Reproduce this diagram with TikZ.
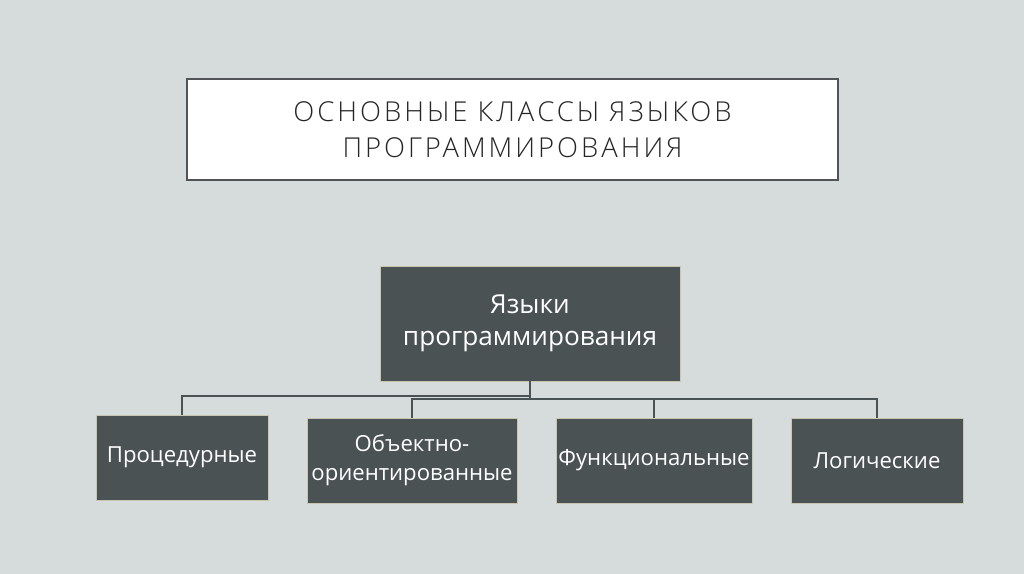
\documentclass[tikz,border=0pt]{standalone}
\usepackage{fontspec}
\setmainfont{Open Sans}
\newfontfamily\titlefont[LetterSpace=11]{Open Sans Light}
\usetikzlibrary{positioning}

\definecolor{slidebg}{RGB}{214,220,220}
\definecolor{boxfill}{RGB}{74,82,84}
\definecolor{boxedge}{RGB}{200,198,176}
\definecolor{titleedge}{RGB}{80,84,86}
\definecolor{titleink}{RGB}{38,38,38}

\begin{document}
\begin{tikzpicture}[
  x=0.02cm,y=-0.02cm,
  bg/.style={fill=slidebg},
  headbox/.style={draw=titleedge,fill=white,line width=1.2pt,
    minimum width=13.02cm,minimum height=2.02cm,align=center,
    text=titleink,font=\titlefont\fontsize{15.6}{20.5}\selectfont},
  rootbox/.style={draw=boxedge,fill=boxfill,line width=.5pt,
    minimum width=6cm,minimum height=2.3cm,align=center,text=white,
    font=\fontsize{14.9}{18.5}\selectfont},
  kindbox/.style={draw=boxedge,fill=boxfill,line width=.5pt,
    minimum height=1.7cm,inner xsep=0pt,align=center,text=white,
    font=\fontsize{12.6}{16.5}\selectfont},
  link/.style={draw=boxfill,line width=.6pt}
]
  \fill[bg] (0,0) rectangle (1024,574);

  \node[headbox] (head) at (512.5,129.5)
    {ОСНОВНЫЕ КЛАССЫ ЯЗЫКОВ\\ПРОГРАММИРОВАНИЯ};

  \node[rootbox] (lang) at (530,323.5) {Языки\\программирования};

  \node[kindbox,minimum width=3.44cm] (proc) at (182,457.5) {Процедурные};
  \node[kindbox,minimum width=4.2cm] (obj) at (412,460.5)
    {Объектно-\\ориентированные};
  \node[kindbox,minimum width=3.92cm] (func) at (654,460.5) {Функциональные};
  \node[kindbox,minimum width=3.44cm] (logic) at (877,460.5) {Логические};

  % two bus lines under the root
  \coordinate (busA) at (530,396);
  \coordinate (busB) at (530,399);
  \draw[link] (lang.south) -- (busB);
  \draw[link] (proc.north) |- (busA);
  \draw[link] (obj.north) |- (busB);
  \draw[link] (logic.north) |- (busB);
  \draw[link] (func.north) -- (func.north |- busB);
\end{tikzpicture}
\end{document}
